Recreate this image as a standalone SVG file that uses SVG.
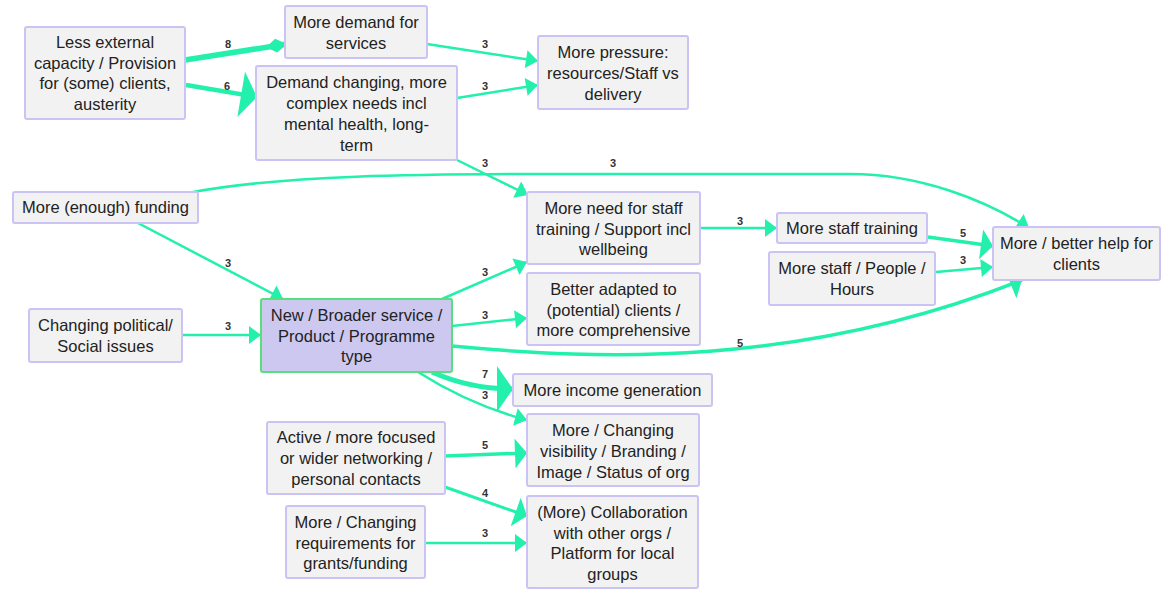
<svg xmlns="http://www.w3.org/2000/svg" width="1162" height="590" viewBox="0 0 1162 590">
<style>
.n rect{fill:#f2f2f2;stroke:#cac3f3;stroke-width:2}
.n.main rect{fill:#ccc8ef;stroke:#55e07c}
.n text{font-family:"Liberation Sans",Arial,sans-serif;font-size:16.5px;fill:#222;text-anchor:middle}
.e path{fill:none;stroke:#22f0ac}
.w3{stroke-width:2.5}
.w4{stroke-width:3}
.w5{stroke-width:3.5}
.w6{stroke-width:4.5}
.w7{stroke-width:5}
.w8{stroke-width:5.5}
.lbl{font-family:"Liberation Sans",Arial,sans-serif;font-size:11px;fill:#333;text-anchor:middle;font-weight:bold}
</style>
<defs>
<marker id="aS" markerUnits="userSpaceOnUse" viewBox="-1 -11 15 22" refX="12" refY="0" markerWidth="15" markerHeight="22" orient="auto"><path d="M0,-9 L12,0 L0,9 z" fill="#22f0ac"/></marker>
<marker id="aM" markerUnits="userSpaceOnUse" viewBox="-1 -17 15 34" refX="12" refY="0" markerWidth="15" markerHeight="34" orient="auto"><path d="M0,-15 L12,0 L0,15 z" fill="#22f0ac"/></marker>
<marker id="aL" markerUnits="userSpaceOnUse" viewBox="-1 -26 18 52" refX="16" refY="0" markerWidth="18" markerHeight="52" orient="auto"><path d="M0,-23 L16,0 L0,23 z" fill="#22f0ac"/></marker>
<marker id="aD" markerUnits="userSpaceOnUse" viewBox="-1 -9 23 18" refX="21" refY="0" markerWidth="23" markerHeight="18" orient="auto"><path d="M0,0 L10,-7 L21,0 L10,7 z" fill="#22f0ac"/></marker>
</defs>

<g id="connectors" class="e">
<path class="w8" d="M185,60 L287,44" marker-end="url(#aD)"/>
<path class="w6" d="M186,85 L257,97" marker-end="url(#aL)"/>
<path class="w3" d="M427,44 L538,61" marker-end="url(#aS)"/>
<path class="w3" d="M457,98 L538,85" marker-end="url(#aS)"/>
<path class="w3" d="M457,160 L528,195" marker-end="url(#aS)"/>
<path class="w3" d="M188,193 C280,175 420,174 560,174 L850,174 C920,174 985,200 1029,228" marker-end="url(#aS)"/>
<path class="w3" d="M138,223 L283,299" marker-end="url(#aS)"/>
<path class="w3" d="M182,335 L261,335" marker-end="url(#aS)"/>
<path class="w3" d="M442,299 L527,262" marker-end="url(#aS)"/>
<path class="w3" d="M452,326 L527,318" marker-end="url(#aS)"/>
<path class="w5" d="M452,346 C600,360 800,368 1022,280" marker-end="url(#aM)"/>
<path class="w3" d="M700,228 L777,228" marker-end="url(#aS)"/>
<path class="w5" d="M928,237 L993,246" marker-end="url(#aM)"/>
<path class="w3" d="M936,272 L993,267" marker-end="url(#aS)"/>
<path class="w7" d="M432,372 Q470,389 513,389" marker-end="url(#aL)"/>
<path class="w3" d="M418,372 Q470,405 527,420" marker-end="url(#aS)"/>
<path class="w5" d="M445,456 L527,453" marker-end="url(#aM)"/>
<path class="w4" d="M445,487 L527,516" marker-end="url(#aM)"/>
<path class="w3" d="M425,543 L527,543" marker-end="url(#aS)"/>
<text class="lbl" x="228" y="48">8</text>
<text class="lbl" x="227" y="90">6</text>
<text class="lbl" x="485" y="48">3</text>
<text class="lbl" x="485" y="90">3</text>
<text class="lbl" x="485" y="167">3</text>
<text class="lbl" x="613" y="167">3</text>
<text class="lbl" x="228" y="267">3</text>
<text class="lbl" x="228" y="330">3</text>
<text class="lbl" x="485" y="276">3</text>
<text class="lbl" x="485" y="319">3</text>
<text class="lbl" x="740" y="225">3</text>
<text class="lbl" x="963" y="237">5</text>
<text class="lbl" x="963" y="264">3</text>
<text class="lbl" x="740" y="347">5</text>
<text class="lbl" x="485" y="378">7</text>
<text class="lbl" x="485" y="399">3</text>
<text class="lbl" x="485" y="449">5</text>
<text class="lbl" x="485" y="497">4</text>
<text class="lbl" x="485" y="537">3</text>
</g>

<g id="n1" class="n"><rect x="25" y="27" width="160" height="92" rx="2"/>
<text x="105" y="48">Less external</text><text x="105" y="68.7">capacity / Provision</text><text x="105" y="89.3">for (some) clients,</text><text x="105" y="110">austerity</text></g>
<g id="n2" class="n"><rect x="285" y="6" width="142" height="52" rx="2"/>
<text x="356" y="28">More demand for</text><text x="356" y="49">services</text></g>
<g id="n3" class="n"><rect x="256" y="66" width="201" height="94" rx="2"/>
<text x="356.5" y="88">Demand changing, more</text><text x="356.5" y="109">complex needs incl</text><text x="356.5" y="130">mental health, long-</text><text x="356.5" y="151">term</text></g>
<g id="n4" class="n"><rect x="538" y="36" width="150" height="73" rx="2"/>
<text x="613" y="58">More pressure:</text><text x="613" y="79">resources/Staff vs</text><text x="613" y="99.5">delivery</text></g>
<g id="n5" class="n"><rect x="13" y="192" width="185" height="31" rx="2"/>
<text x="105.5" y="213">More (enough) funding</text></g>
<g id="n6" class="n"><rect x="29" y="309" width="153" height="53" rx="2"/>
<text x="105.5" y="331">Changing political/</text><text x="105.5" y="351.5">Social issues</text></g>
<g id="n7" class="n main"><rect x="261" y="299" width="191" height="73" rx="2"/>
<text x="356.5" y="321">New / Broader service /</text><text x="356.5" y="341.5">Product / Programme</text><text x="356.5" y="362">type</text></g>
<g id="n8" class="n"><rect x="527" y="192" width="173" height="72" rx="2"/>
<text x="613.5" y="214">More need for staff</text><text x="613.5" y="234.5">training / Support incl</text><text x="613.5" y="255">wellbeing</text></g>
<g id="n9" class="n"><rect x="527" y="273" width="173" height="72" rx="2"/>
<text x="613.5" y="295">Better adapted to</text><text x="613.5" y="315.5">(potential) clients /</text><text x="613.5" y="336">more comprehensive</text></g>
<g id="n10" class="n"><rect x="777" y="213" width="150" height="30" rx="2"/>
<text x="852" y="234">More staff training</text></g>
<g id="n11" class="n"><rect x="769" y="252" width="166" height="53" rx="2"/>
<text x="852" y="274">More staff / People /</text><text x="852" y="295">Hours</text></g>
<g id="n12" class="n"><rect x="993" y="227" width="167" height="53" rx="2"/>
<text x="1076.5" y="249">More / better help for</text><text x="1076.5" y="270">clients</text></g>
<g id="n13" class="n"><rect x="513" y="374" width="199" height="32" rx="2"/>
<text x="612.5" y="396">More income generation</text></g>
<g id="n14" class="n"><rect x="527" y="414" width="172" height="72" rx="2"/>
<text x="613" y="436">More / Changing</text><text x="613" y="457">visibility / Branding /</text><text x="613" y="478">Image / Status of org</text></g>
<g id="n15" class="n"><rect x="267" y="422" width="178" height="72" rx="2"/>
<text x="356" y="443">Active / more focused</text><text x="356" y="464">or wider networking /</text><text x="356" y="484.5">personal contacts</text></g>
<g id="n16" class="n"><rect x="527" y="496" width="171" height="92" rx="2"/>
<text x="612.5" y="518">(More) Collaboration</text><text x="612.5" y="538.5">with other orgs /</text><text x="612.5" y="559">Platform for local</text><text x="612.5" y="579.5">groups</text></g>
<g id="n17" class="n"><rect x="286" y="506" width="139" height="72" rx="2"/>
<text x="355.5" y="528">More / Changing</text><text x="355.5" y="548.5">requirements for</text><text x="355.5" y="569">grants/funding</text></g>
</svg>
